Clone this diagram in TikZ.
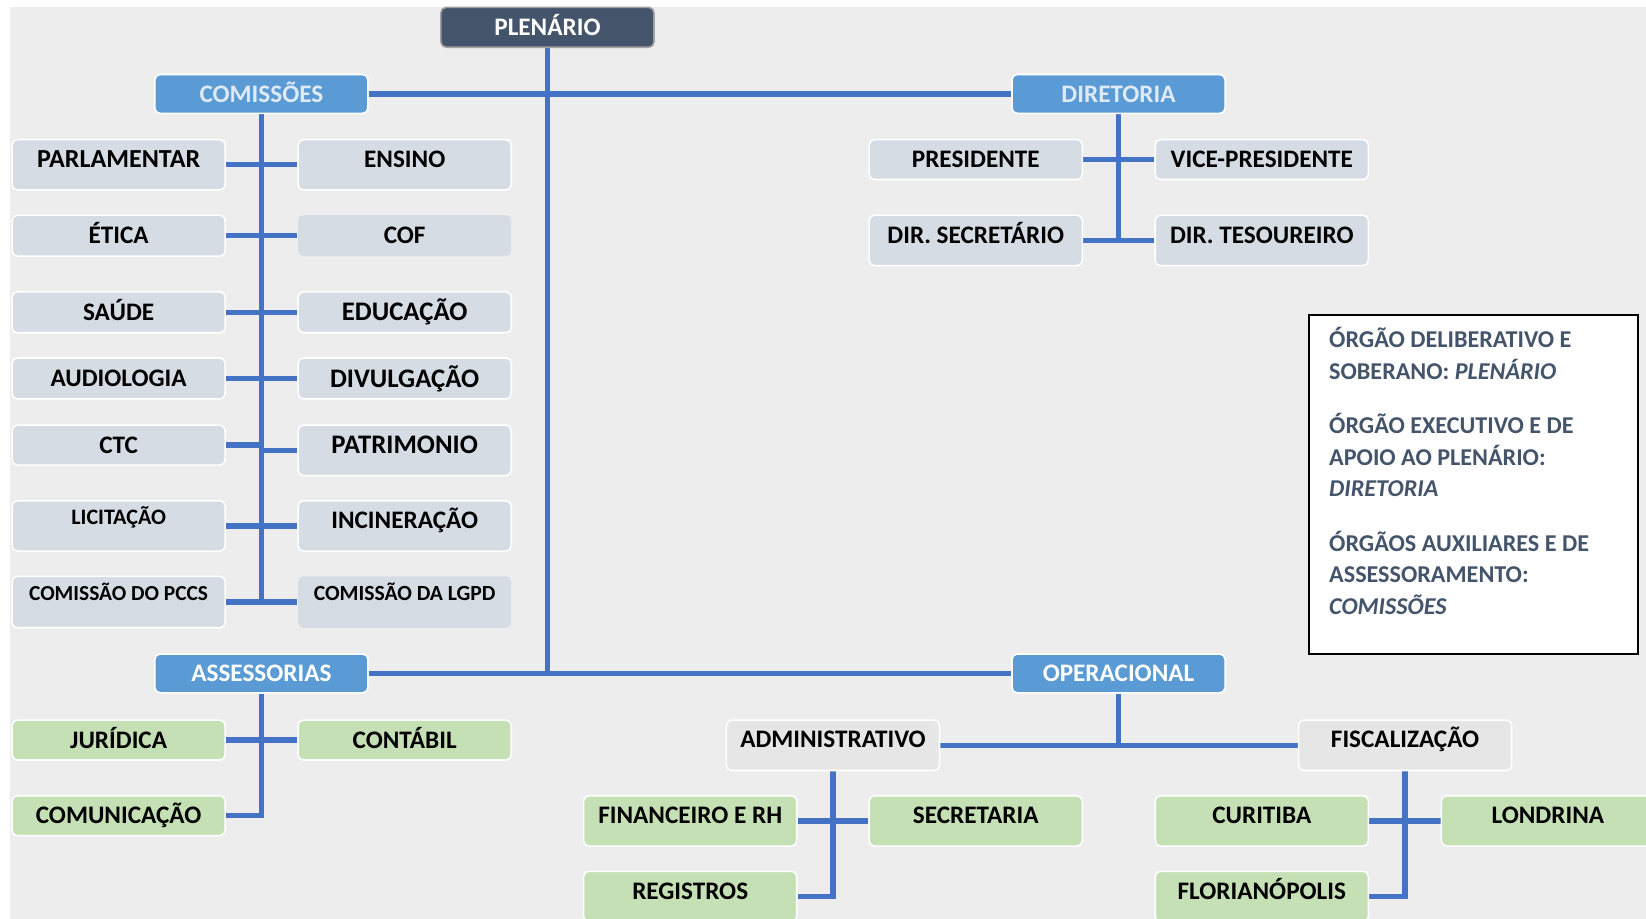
\documentclass[tikz,border=0pt]{standalone}
\usepackage{fontspec}
\setmainfont{Carlito}
\usetikzlibrary{calc}
\definecolor{bgc}{HTML}{EDEDED}
\definecolor{linec}{HTML}{4472C4}
\definecolor{bluef}{HTML}{5B9BD5}
\definecolor{grayf}{HTML}{D6DCE4}
\definecolor{greenf}{HTML}{C5E0B4}
\definecolor{slate}{HTML}{44546A}
\definecolor{paletext}{HTML}{DEEAF6}
\definecolor{lightf}{HTML}{E7E6E6}
\pgfdeclarelayer{back}\pgfdeclarelayer{lines}\pgfsetlayers{back,lines,main}
\tikzset{
 orgbox/.style={rectangle, rounded corners=5pt, draw=white, line width=1.5pt, inner sep=0pt,
   minimum width=203pt, minimum height=38pt, font=\bfseries\fontsize{24}{24}\selectfont,
   text height=15.5pt, text depth=0pt},
 txtup/.style={text depth=#1},
 bigtxt/.style={font=\bfseries\fontsize{25.5}{26}\selectfont, text height=16.4pt},
 tallbox/.style={minimum height=48pt, text depth=10pt},
 smalltxt/.style={font=\bfseries\fontsize{#1}{21}\selectfont, text height=13.2pt, text depth=16pt},
 cmbox/.style={orgbox, fill=grayf},
 grbox/.style={orgbox, fill=greenf},
 ltbox/.style={orgbox, fill=lightf},
 hdbox/.style={orgbox, fill=bluef, minimum height=37pt},
 conn/.style={draw=linec, line width=5pt},
}
\begin{document}
\begin{tikzpicture}[x=1pt,y=-1pt]
\useasboundingbox (0,0) rectangle (1568,875);
\clip (0,0) rectangle (1568,875);
\begin{pgfonlayer}{back}
\fill[white] (0,0) rectangle (1568,875);
\fill[bgc] (10,7) rectangle (1568,875);
\end{pgfonlayer}

% top level
\node[orgbox, fill=slate, draw=gray!75, text=white] (plenario) at (521.5,26) {PLENÁRIO};
\node[hdbox, text=paletext] (comissoes) at (249,89.5) {COMISSÕES};
\node[hdbox, text=paletext] (diretoria) at (1065.5,89.5) {DIRETORIA};
\node[hdbox, text=white] (assessorias) at (249,641.5) {ASSESSORIAS};
\node[hdbox, text=white] (operacional) at (1065.5,641.5) {OPERACIONAL};

% comissoes
\node[cmbox, tallbox, font=\bfseries\fontsize{24.8}{25}\selectfont] (parlamentar) at (113,157) {PARLAMENTAR};
\node[cmbox, tallbox] (ensino) at (385.5,157) {ENSINO};
\node[cmbox, minimum height=39pt] (etica) at (113,224.5) {ÉTICA};
\node[cmbox, minimum height=39pt, draw=none] (cof) at (385.5,224.5) {COF};
\node[cmbox, minimum height=39pt] (saude) at (113,297.5) {SAÚDE};
\node[cmbox, minimum height=39pt, bigtxt] (educacao) at (385.5,297.5) {EDUCAÇÃO};
\node[cmbox, minimum height=39pt] (audiologia) at (113,360.5) {AUDIOLOGIA};
\node[cmbox, minimum height=39pt, bigtxt] (divulgacao) at (385.5,360.5) {DIVULGAÇÃO};
\node[cmbox] (ctc) at (113,424) {CTC};
\node[cmbox, tallbox, bigtxt] (patrimonio) at (385.5,429) {PATRIMONIO};
\node[cmbox, tallbox, smalltxt=21] (licitacao) at (113,501) {LICITAÇÃO};
\node[cmbox, tallbox] (incineracao) at (385.5,501) {INCINERAÇÃO};
\node[cmbox, minimum height=49pt, smalltxt=20.4, txtup=17pt] (pccs) at (113,573.5) {COMISSÃO DO PCCS};
\node[cmbox, minimum height=49pt, smalltxt=20.6, txtup=17pt, draw=none] (lgpd) at (385.5,573.5) {COMISSÃO DA LGPD};

% diretoria
\node[cmbox] (presidente) at (929.5,152) {PRESIDENTE};
\node[cmbox] (vice) at (1202,152) {VICE-PRESIDENTE};
\node[cmbox, tallbox] (dirsec) at (929.5,229) {DIR. SECRETÁRIO};
\node[cmbox, tallbox] (dirtes) at (1202,229) {DIR. TESOUREIRO};

% assessorias
\node[grbox] (juridica) at (113,705) {JURÍDICA};
\node[grbox] (contabil) at (385.5,705) {CONTÁBIL};
\node[grbox] (comunicacao) at (113,777) {COMUNICAÇÃO};

% operacional
\node[ltbox, tallbox, txtup=12pt] (admin) at (793.5,710) {ADMINISTRATIVO};
\node[ltbox, tallbox, txtup=12pt] (fisc) at (1338.5,710) {FISCALIZAÇÃO};
\node[grbox, tallbox] (financeiro) at (657.5,782) {FINANCEIRO E RH};
\node[grbox, tallbox] (secretaria) at (929.5,782) {SECRETARIA};
\node[grbox, tallbox] (registros) at (657.5,854) {REGISTROS};
\node[grbox, tallbox] (curitiba) at (1202,782) {CURITIBA};
\node[grbox, tallbox] (londrina) at (1474.5,782) {LONDRINA};
\node[grbox, tallbox] (floripa) at (1202,854) {FLORIANÓPOLIS};

% legend
\node[draw=black, line width=2pt, fill=white, minimum width=313pt, minimum height=323pt,
  inner sep=0pt, anchor=north west] (legend) at (1246,299) {};
\node[anchor=north west, inner sep=0pt, align=left, text=slate,
  font=\bfseries\fontsize{23}{30}\selectfont] (legendtext) at (1266,311)
  {\rule{0pt}{20pt}ÓRGÃO DELIBERATIVO E\\SOBERANO: \textit{PLENÁRIO}\\[22pt]
   ÓRGÃO EXECUTIVO E DE\\APOIO AO PLENÁRIO:\\\textit{DIRETORIA}\\[22pt]
   ÓRGÃOS AUXILIARES E DE\\ASSESSORAMENTO:\\\textit{COMISSÕES}};

\begin{pgfonlayer}{lines}
\draw[conn] (plenario.south) -- (plenario.south |- assessorias.east);
\draw[conn] (comissoes.east) -- (diretoria.west);
\draw[conn] (assessorias.east) -- (operacional.west);
% comissoes
\draw[conn] (comissoes.south) -- ($(comissoes.south |- pccs.east)+(0,2.5)$);
\draw[conn] (parlamentar.east) -- (ensino.west);
\draw[conn] (etica.east) -- (cof.west);
\draw[conn] (saude.east) -- (educacao.west);
\draw[conn] (audiologia.east) -- (divulgacao.west);
\draw[conn] (ctc.east) -- (ctc.east -| comissoes.south);
\draw[conn] (patrimonio.west) -- (patrimonio.west -| comissoes.south);
\draw[conn] (licitacao.east) -- (incineracao.west);
\draw[conn] (pccs.east) -- (lgpd.west);
% diretoria
\draw[conn] (diretoria.south) -- ($(diretoria.south |- dirsec.east)+(0,2.5)$);
\draw[conn] (presidente.east) -- (vice.west);
\draw[conn] (dirsec.east) -- (dirtes.west);
% assessorias
\draw[conn] (juridica.east) -- (contabil.west);
\draw[conn] (comunicacao.east) -| (assessorias.south);
% operacional
\draw[conn] (operacional.south) -- (operacional.south |- admin.east);
\draw[conn] (admin.east) -- (fisc.west);
\draw[conn] (financeiro.east) -- (secretaria.west);
\draw[conn] (registros.east) -| (admin.south);
\draw[conn] (curitiba.east) -- (londrina.west);
\draw[conn] (floripa.east) -| (fisc.south);
\end{pgfonlayer}
\end{tikzpicture}
\end{document}
